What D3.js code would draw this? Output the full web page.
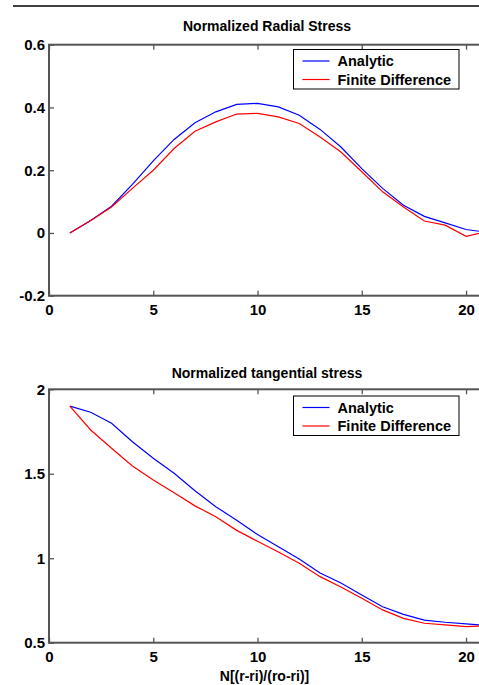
<!DOCTYPE html>
<html>
<head>
<meta charset="utf-8">
<script src="https://cdn.jsdelivr.net/npm/d3@7"></script>
<style>
  html, body { margin: 0; padding: 0; background: #fff; }
  svg { display: block; }
  text { font-family: "Liberation Sans", Arial, Helvetica, sans-serif; font-weight: bold; fill: #000; }
</style>
</head>
<body>
<svg id="chart" width="479" height="685"></svg>
<script>
// ---- data ----
const xValues = [1, 2, 3, 4, 5, 6, 7, 8, 9, 10, 11, 12, 13, 14, 15, 16, 17, 18, 19, 20, 21];
const radialAnalytic = [0, 0.04, 0.085, 0.155, 0.23, 0.298, 0.351, 0.386, 0.41, 0.413, 0.402, 0.375, 0.33, 0.274, 0.205, 0.142, 0.088, 0.053, 0.032, 0.011, 0.002];
const radialFD = [0, 0.04, 0.083, 0.142, 0.20, 0.269, 0.324, 0.354, 0.379, 0.381, 0.370, 0.349, 0.306, 0.258, 0.195, 0.131, 0.083, 0.038, 0.025, -0.011, 0.004];
const tangentialAnalytic = [1.9, 1.864, 1.799, 1.69, 1.592, 1.503, 1.40, 1.305, 1.225, 1.14, 1.068, 0.995, 0.913, 0.853, 0.782, 0.713, 0.668, 0.634, 0.621, 0.611, 0.603];
const tangentialFD = [1.9, 1.759, 1.651, 1.546, 1.463, 1.388, 1.31, 1.246, 1.165, 1.10, 1.037, 0.97, 0.891, 0.83, 0.763, 0.694, 0.644, 0.615, 0.605, 0.595, 0.600];
const xTicks = [0, 5, 10, 15, 20];
const radialTicks = [-0.2, 0, 0.2, 0.4, 0.6];
const tangentialTicks = [0.5, 1, 1.5, 2];
const seriesNames = ["Analytic", "Finite Difference"];
const seriesColors = ["#0000ff", "#ff0000"];
const titles = ["Normalized Radial Stress", "Normalized tangential stress"];
const xLabel = "N[(r-ri)/(ro-ri)]";

const svg = d3.select("#chart");

// separator line at top
svg.append("line").attr("x1", 13).attr("x2", 479).attr("y1", 6).attr("y2", 6)
  .attr("stroke", "#000").attr("stroke-width", 1.3);

function panel(cfg) {
  const x = d3.scaleLinear().domain([0, 21]).range([49, 486.9]);
  const y = d3.scaleLinear().domain(cfg.yDomain).range([cfg.bottom, cfg.top]);
  const g = svg.append("g");
  const clipId = "clip" + cfg.id;
  svg.append("clipPath").attr("id", clipId).append("rect")
    .attr("x", 49).attr("y", cfg.top).attr("width", 486.9 - 49).attr("height", cfg.bottom - cfg.top);

  const fmt = d => String(d);
  // axes with inward ticks
  const axB = g.append("g").attr("transform", `translate(0,${cfg.bottom})`)
    .call(d3.axisBottom(x).tickValues(xTicks).tickSize(-5).tickPadding(9).tickFormat(fmt));
  const axT = g.append("g").attr("transform", `translate(0,${cfg.top})`)
    .call(d3.axisTop(x).tickValues(xTicks).tickSize(-5).tickFormat(""));
  const axL = g.append("g").attr("transform", `translate(49,0)`)
    .call(d3.axisLeft(y).tickValues(cfg.yTicks).tickSize(-5).tickPadding(4).tickFormat(fmt));
  const axR = g.append("g").attr("transform", `translate(486.9,0)`)
    .call(d3.axisRight(y).tickValues(cfg.yTicks).tickSize(-5).tickFormat(""));
  [axB, axT, axL, axR].forEach(a => {
    a.select(".domain").remove();
    a.selectAll(".tick line").attr("stroke", "#555").attr("stroke-width", 1.3);
    a.selectAll(".tick text").attr("font-size", 15).attr("fill", "#000")
      .style("font-family", '"Liberation Sans", Arial, sans-serif').style("font-weight", "bold");
  });
  axB.selectAll(".tick text").attr("dy", "0.71em");

  // box
  g.append("rect").attr("x", 49).attr("y", cfg.top).attr("width", 486.9 - 49).attr("height", cfg.bottom - cfg.top)
    .attr("fill", "none").attr("stroke", "#555").attr("stroke-width", 2);

  // lines
  const line = d3.line().x((d, i) => x(xValues[i])).y(d => y(d));
  cfg.series.forEach((s, k) => {
    g.append("path").datum(s).attr("d", line).attr("fill", "none")
      .attr("stroke", seriesColors[k]).attr("stroke-width", 1.2).attr("clip-path", `url(#${clipId})`);
  });

  // title
  g.append("text").attr("x", 267).attr("y", cfg.titleY).attr("text-anchor", "middle")
    .attr("font-size", 14).text(cfg.title);

  // legend
  const lg = g.append("g");
  lg.append("rect").attr("x", 293.5).attr("y", cfg.legendTop).attr("width", 165.5).attr("height", 39.5)
    .attr("fill", "#fff").attr("stroke", "#000").attr("stroke-width", 1);
  seriesNames.forEach((n, k) => {
    const ly = cfg.legendTop + 11.5 + k * 18.5;
    lg.append("line").attr("x1", 302.5).attr("x2", 329.5).attr("y1", ly).attr("y2", ly)
      .attr("stroke", seriesColors[k]).attr("stroke-width", 1.2);
    lg.append("text").attr("x", 337.5).attr("y", ly).attr("dy", "0.36em")
      .attr("font-size", 14.5).text(n);
  });
  return g;
}

panel({ id: 1, top: 44.7, bottom: 295.7, yDomain: [-0.2, 0.6], yTicks: radialTicks,
  series: [radialAnalytic, radialFD], title: titles[0], titleY: 31, legendTop: 49.5 });
panel({ id: 2, top: 389.3, bottom: 642.7, yDomain: [0.5, 2], yTicks: tangentialTicks,
  series: [tangentialAnalytic, tangentialFD], title: titles[1], titleY: 378, legendTop: 396 });

svg.append("text").attr("x", 264.5).attr("y", 681).attr("text-anchor", "middle")
  .attr("font-size", 14).text(xLabel);
</script>
</body>
</html>
